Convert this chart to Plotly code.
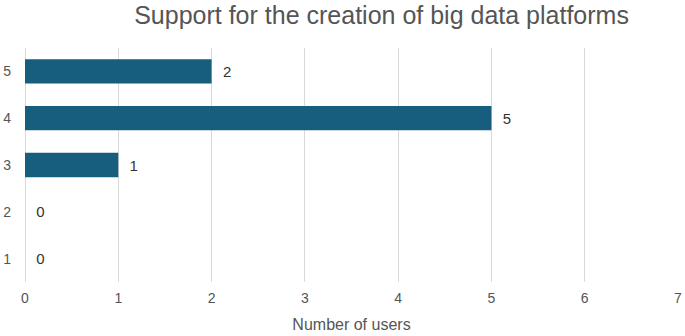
import plotly.graph_objects as go

categories = ["1", "2", "3", "4", "5"]
values = [0, 0, 1, 5, 2]
x_ticks = [0, 1, 2, 3, 4, 5, 6, 7]

fig = go.Figure(go.Bar(
    y=categories, x=values, orientation="h",
    marker=dict(color="#175d7e", line=dict(width=0)),
    text=["  " + str(v) for v in values], textposition="outside",
    textfont=dict(size=15, color="#333333"),
    cliponaxis=False,
))

fig.update_layout(
    width=685, height=336,
    margin=dict(l=25, r=7, t=48, b=54),
    paper_bgcolor="white", plot_bgcolor="white",
    font=dict(family="Liberation Sans, Arial, sans-serif", color="#555555"),
    title=dict(text="Support for the creation of big data platforms",
               x=0.557, xanchor="center", y=0.955, yanchor="middle",
               font=dict(size=25, color="#555555")),
    bargap=0.48,
    showlegend=False,
    xaxis=dict(range=[0, 7], tickvals=x_ticks, showgrid=True, gridcolor="#d9d9d9",
               gridwidth=1, zeroline=True, zerolinecolor="#d9d9d9", zerolinewidth=1,
               showline=False, ticks="", tickfont=dict(size=14, color="#555555"),
               automargin=False, ticklabelstandoff=6,
               title=dict(text="Number of users", font=dict(size=16, color="#555555"), standoff=13)),
    yaxis=dict(type="category", categoryorder="array", categoryarray=categories,
               showgrid=False, showline=False, ticks="", automargin=False,
               tickfont=dict(size=14, color="#555555"), ticklabelstandoff=13),
)

fig.write_html("out.html", config={"displayModeBar": False},
               post_script="document.body.style.margin='0px';document.body.style.padding='0px';")
